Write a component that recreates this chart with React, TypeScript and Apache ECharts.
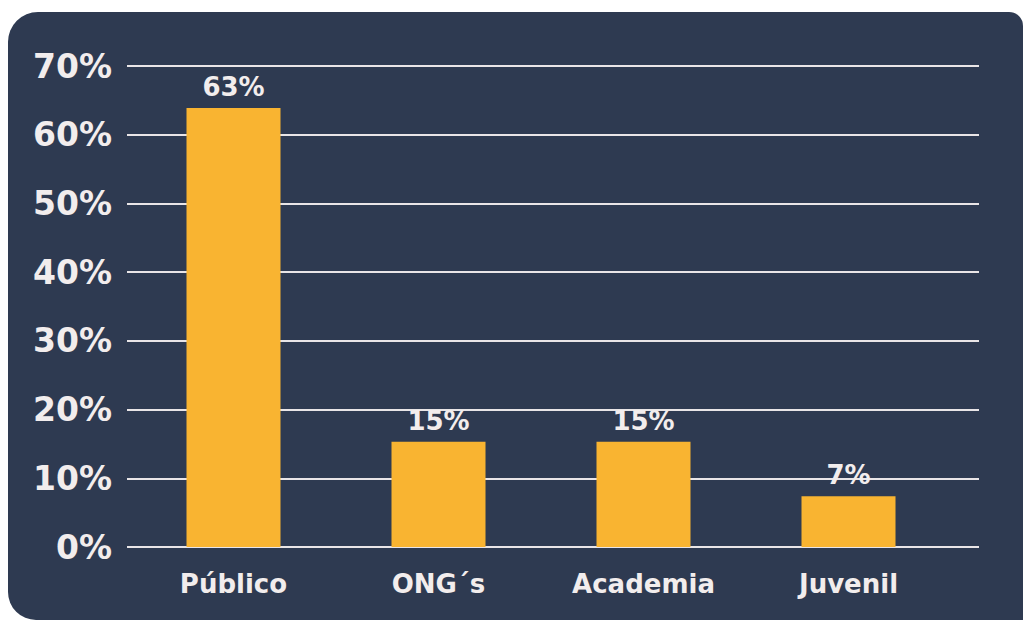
import React, { useEffect, useRef } from "react";
import * as echarts from "echarts";

const categories = ["Público", "ONG´s", "Academia", "Juvenil"];
const values = [63.9, 15.3, 15.3, 7.4];
const valueLabels = ["63%", "15%", "15%", "7%"];
const yTicks = [0, 10, 20, 30, 40, 50, 60, 70];

const TEXT = "#f2eded";
const BG = "#2e3a51";
const BAR = "#f9b431";
const FONT = "DejaVu Sans";

export default function App() {
  const ref = useRef<HTMLDivElement>(null);
  useEffect(() => {
    const chart = echarts.init(ref.current!, null, { renderer: "svg" });
    chart.setOption({
      animation: false,
      backgroundColor: "#ffffff",
      graphic: [
        {
          type: "rect",
          z: -10,
          shape: { x: 8, y: 12, width: 1015, height: 608, r: [30, 14, 0, 28] },
          style: { fill: BG },
          silent: true,
        },
      ],
      grid: [
        { left: 127, right: 46, top: 66, bottom: 74 },
        { left: 131, right: 74, top: 66, bottom: 74 },
      ],
      xAxis: [
        { gridIndex: 0, type: "category", data: categories, show: false },
        {
          gridIndex: 1,
          type: "category",
          data: categories,
          axisLine: { show: false },
          axisTick: { show: false },
          axisLabel: {
            color: TEXT,
            fontFamily: FONT,
            fontWeight: "bold",
            fontSize: 26,
            margin: 24,
          },
        },
      ],
      yAxis: [
        {
          gridIndex: 0,
          type: "value",
          min: 0,
          max: 70,
          interval: 10,
          axisLine: { show: false },
          axisTick: { show: false },
          splitLine: { lineStyle: { color: "#e9e5e7", width: 2 } },
          axisLabel: {
            color: TEXT,
            fontFamily: FONT,
            fontWeight: "bold",
            fontSize: 33,
            margin: 15,
            formatter: (v: number) => (yTicks.includes(v) ? v + "%" : ""),
          },
        },
        {
          gridIndex: 1,
          type: "value",
          min: 0,
          max: 70,
          interval: 10,
          show: false,
        },
      ],
      series: [
        {
          type: "bar",
          xAxisIndex: 1,
          yAxisIndex: 1,
          data: values,
          barWidth: 94,
          itemStyle: { color: BAR },
          label: {
            show: true,
            position: "top",
            distance: 8,
            color: TEXT,
            fontFamily: FONT,
            fontWeight: "bold",
            fontSize: 26,
            formatter: (p: any) => valueLabels[p.dataIndex],
          },
        },
      ],
    });
    return () => chart.dispose();
  }, []);
  return (
    <div
      ref={ref}
      style={{ position: "fixed", left: 0, top: 0, width: 1025, height: 621 }}
    />
  );
}
